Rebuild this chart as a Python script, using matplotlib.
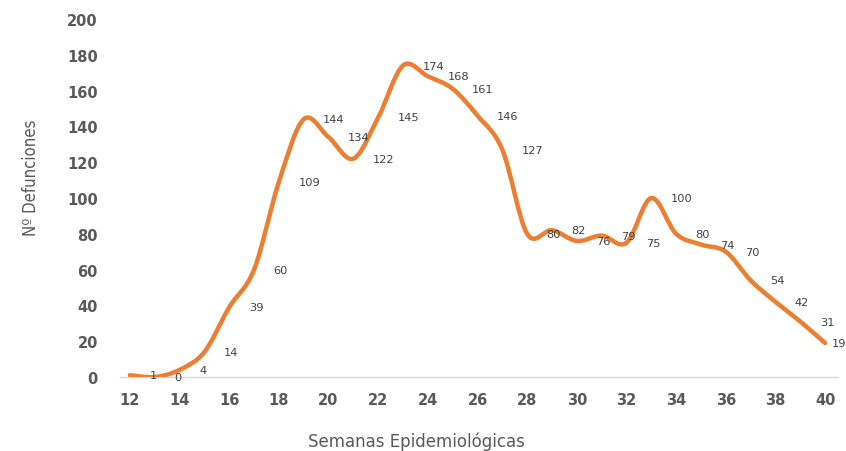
import matplotlib.pyplot as plt
from matplotlib.path import Path
from matplotlib.patches import PathPatch

# Defunciones por semana epidemiológica
semanas = list(range(12, 41))
defunciones = [1, 0, 4, 14, 39, 60, 109, 144, 134, 122, 145, 174, 168, 161, 146,
               127, 80, 82, 76, 79, 75, 100, 80, 74, 70, 54, 42, 31, 19]
xticks = list(range(12, 41, 2))
yticks = list(range(0, 201, 20))

naranja = '#ED7D31'
gris = '#595959'

fig = plt.figure(figsize=(8.46, 4.52), dpi=100)
ax = fig.add_axes([120 / 846, 1 - 378 / 452, (838 - 120) / 846, (378 - 20) / 452])

# curva suavizada tipo Excel (Bezier por tramos)
pts = list(zip(semanas, defunciones))
verts = [pts[0]]
codes = [Path.MOVETO]
n = len(pts)
for i in range(n - 1):
    p0 = pts[i - 1] if i > 0 else pts[i]
    p1 = pts[i]
    p2 = pts[i + 1]
    p3 = pts[i + 2] if i + 2 < n else pts[i + 1]
    c1 = (p1[0] + (p2[0] - p0[0]) / 6, p1[1] + (p2[1] - p0[1]) / 6)
    c2 = (p2[0] - (p3[0] - p1[0]) / 6, p2[1] - (p3[1] - p1[1]) / 6)
    verts += [c1, c2, p2]
    codes += [Path.CURVE4] * 3
ax.add_patch(PathPatch(Path(verts, codes), facecolor='none', edgecolor=naranja,
                       lw=3.2, capstyle='round', joinstyle='round', zorder=3))

for i, (x, y) in enumerate(zip(semanas, defunciones)):
    dx = 5 if i == n - 1 else 14  # la última etiqueta queda pegada al borde
    ax.annotate(str(y), (x, y), xytext=(dx, 0), textcoords='offset points',
                ha='left', va='center', fontsize=8.2, color='#404040', zorder=4,
                annotation_clip=False)

ax.set_xlim(11.6, 40.52)
ax.set_ylim(0, 200)
ax.set_xticks(xticks)
ax.set_yticks(yticks)
for s in ['top', 'right', 'left']:
    ax.spines[s].set_visible(False)
ax.spines['bottom'].set_color('#D9D9D9')
ax.spines['bottom'].set_linewidth(1)
ax.tick_params(axis='both', length=0, labelsize=10.5, labelcolor=gris)
ax.tick_params(axis='y', pad=16)
ax.tick_params(axis='x', pad=11)
for lab in ax.get_xticklabels() + ax.get_yticklabels():
    lab.set_fontweight('bold')

fig.text(31 / 846, 1 - 178 / 452, 'Nº Defunciones', rotation=90, ha='center', va='center',
         fontsize=12, color=gris, family='DejaVu Sans', fontstretch='condensed')
fig.text(416 / 846, 1 - 442 / 452, 'Semanas Epidemiológicas',
         ha='center', va='center', fontsize=12, color=gris)

fig.savefig('out.png', dpi=100)
